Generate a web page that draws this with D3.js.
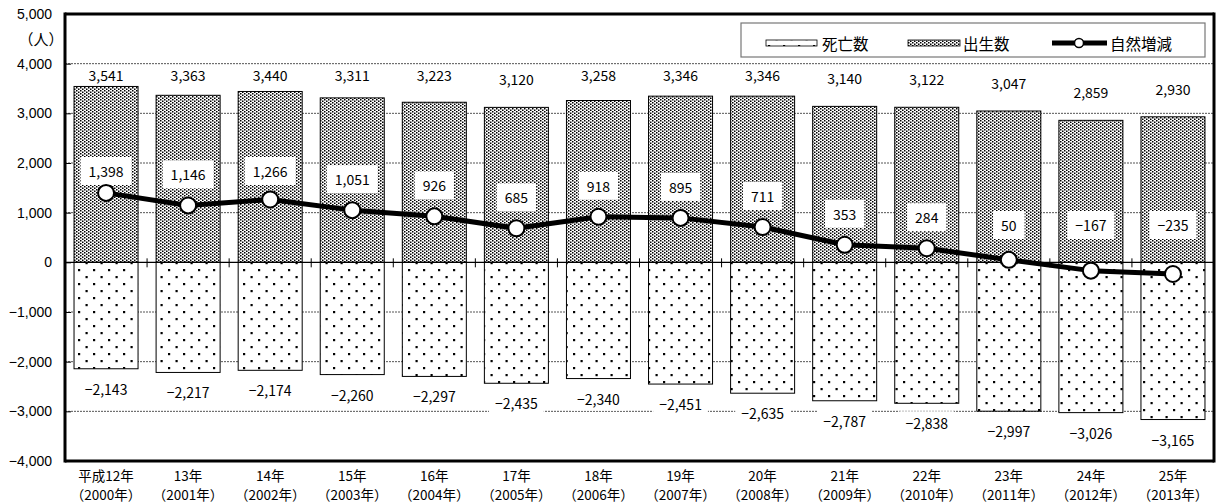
<!DOCTYPE html>
<html><head><meta charset="utf-8">
<script src="https://cdn.jsdelivr.net/npm/d3@7"></script>
<style>
html,body{margin:0;padding:0;background:#fff;}
svg{display:block;font-family:"Noto Sans CJK JP","Noto Sans",sans-serif;}
</style></head>
<body><svg id="c" width="1216" height="504"></svg>
<script>
const yearsJP = ["平成12年","13年","14年","15年","16年","17年","18年","19年","20年","21年","22年","23年","24年","25年"];
const yearsAD = ["（2000年）","（2001年）","（2002年）","（2003年）","（2004年）","（2005年）","（2006年）","（2007年）","（2008年）","（2009年）","（2010年）","（2011年）","（2012年）","（2013年）"];
const births = [3541,3363,3440,3311,3223,3120,3258,3346,3346,3140,3122,3047,2859,2930];
const deaths = [-2143,-2217,-2174,-2260,-2297,-2435,-2340,-2451,-2635,-2787,-2838,-2997,-3026,-3165];
const natural = [1398,1146,1266,1051,926,685,918,895,711,353,284,50,-167,-235];
const yTicks = [5000,4000,3000,2000,1000,0,-1000,-2000,-3000,-4000];
const legendLabels = ["死亡数","出生数","自然増減"];
const unitLabel = "（人）";

const svg = d3.select("#c");
const L = 65, R = 1214, T = 14, B = 461;
const x = d3.scaleBand().domain(yearsJP).range([L, R]).paddingInner(0.22).paddingOuter(0.11);
const y = d3.scaleLinear().domain([-4000, 5000]).range([B, T]);
const fmt = d3.format(",");

// patterns
const defs = svg.append("defs");
const pb = defs.append("pattern").attr("id","pBirth").attr("patternUnits","userSpaceOnUse").attr("width",4).attr("height",3);
pb.append("rect").attr("width",4).attr("height",3).attr("fill","#fff");
pb.append("rect").attr("x",0).attr("y",0).attr("width",1.5).attr("height",1.5).attr("fill","#000");
pb.append("rect").attr("x",2).attr("y",1.5).attr("width",1.5).attr("height",1.5).attr("fill","#000");
const pd = defs.append("pattern").attr("id","pDeath").attr("patternUnits","userSpaceOnUse").attr("width",15).attr("height",14);
pd.append("rect").attr("width",15).attr("height",14).attr("fill","#fff");
pd.append("rect").attr("x",3).attr("y",3).attr("width",2.2).attr("height",2.2).attr("fill","#000");
pd.append("rect").attr("x",10.5).attr("y",10).attr("width",2.2).attr("height",2.2).attr("fill","#000");

// gridlines
svg.append("g").selectAll("line").data(yTicks.filter(v => v !== 0 && v !== 5000 && v !== -4000)).join("line")
  .attr("x1", L).attr("x2", R).attr("y1", d => y(d)).attr("y2", d => y(d))
  .attr("stroke", "#555").attr("stroke-width", 1).attr("stroke-dasharray", "2,1");

// y axis labels
const yAxis = d3.axisLeft(y).tickValues(yTicks).tickFormat(fmt).tickSize(-6).tickPadding(13);
const ya = svg.append("g").attr("transform", `translate(${L},0)`).call(yAxis);
ya.select(".domain").remove();
ya.selectAll(".tick line").attr("stroke", "#000");
ya.selectAll("text").attr("font-size", 14).attr("fill", "#000").attr("font-family", "inherit");
svg.append("text").attr("x", 41).attr("y", 38).attr("text-anchor","middle").attr("dominant-baseline","central")
  .attr("font-size", 15).text(unitLabel);

// bars
svg.append("g").selectAll("rect").data(births).join("rect")
  .attr("x", (d,i) => x(yearsJP[i])).attr("width", x.bandwidth())
  .attr("y", d => y(d)).attr("height", d => y(0) - y(d))
  .attr("fill", "url(#pBirth)").attr("stroke", "#000").attr("stroke-width", 1);
svg.append("g").selectAll("rect").data(deaths).join("rect")
  .attr("x", (d,i) => x(yearsJP[i])).attr("width", x.bandwidth())
  .attr("y", y(0)).attr("height", d => y(d) - y(0))
  .attr("fill", "url(#pDeath)").attr("stroke", "#000").attr("stroke-width", 1);

// zero line and category ticks
svg.append("line").attr("x1", L).attr("x2", R).attr("y1", y(0)).attr("y2", y(0)).attr("stroke","#000").attr("stroke-width",1.2);
svg.append("g").selectAll("line").data(d3.range(1, yearsJP.length)).join("line")
  .attr("x1", i => L + i * x.step()).attr("x2", i => L + i * x.step())
  .attr("y1", y(0) - 4).attr("y2", y(0) + 5).attr("stroke","#000").attr("stroke-width",1);

// x labels
const cx = i => x(yearsJP[i]) + x.bandwidth() / 2;
const xl = svg.append("g");
xl.selectAll("text.l1").data(yearsJP).join("text").attr("class","l1")
  .attr("x", (d,i) => cx(i)).attr("y", 474.5).attr("text-anchor","middle").attr("dominant-baseline","central")
  .attr("font-size", 13.5).text(d => d);
xl.selectAll("text.l2").data(yearsAD).join("text").attr("class","l2")
  .attr("x", (d,i) => cx(i)).attr("y", 494.3).attr("text-anchor","middle").attr("dominant-baseline","central")
  .attr("font-size", 13.5).text(d => d);

// label helper with white box
function boxLabel(g, xx, yy, txt, padX, h) {
  const t = g.append("text").attr("x", xx).attr("y", yy).attr("text-anchor","middle")
    .attr("dominant-baseline","central").attr("font-size", 14).text(txt);
  const w = t.node().getComputedTextLength();
  g.insert("rect", "text").attr("x", xx - w/2 - padX).attr("y", yy - h/2).attr("width", w + 2*padX).attr("height", h).attr("fill", "#fff");
}

// births labels
const bl = svg.append("g");
births.forEach((v,i) => {
  const g = bl.append("g");
  boxLabel(g, cx(i), Math.max(75, y(v) - 28), fmt(v), 3, 18);
});
// deaths labels
const dl = svg.append("g");
deaths.forEach((v,i) => {
  const g = dl.append("g");
  boxLabel(g, cx(i), y(v) + 20, fmt(v), 6, 24);
});

// natural line
const line = d3.line().x((d,i) => cx(i)).y(d => y(d));
svg.append("path").datum(natural).attr("d", line).attr("fill","none").attr("stroke","#000")
  .attr("stroke-width", 5).attr("stroke-linejoin","round");
// natural labels
const nl = svg.append("g");
natural.forEach((v,i) => {
  const g = nl.append("g");
  boxLabel(g, cx(i), Math.min(225, Math.max(171, y(v) - 31)), fmt(v), 8, 28);
});
svg.append("g").selectAll("circle").data(natural).join("circle")
  .attr("cx", (d,i) => cx(i)).attr("cy", d => y(d)).attr("r", 8)
  .attr("fill","#fff").attr("stroke","#000").attr("stroke-width",2);

// frame
svg.append("line").attr("x1", L).attr("x2", R).attr("y1", T).attr("y2", T).attr("stroke","#000").attr("stroke-width",3);
svg.append("line").attr("x1", L).attr("x2", R).attr("y1", B).attr("y2", B).attr("stroke","#000").attr("stroke-width",3);
svg.append("line").attr("x1", L).attr("x2", L).attr("y1", T-1.5).attr("y2", B+1.5).attr("stroke","#000").attr("stroke-width",3);
svg.append("line").attr("x1", R).attr("x2", R).attr("y1", T-1.5).attr("y2", B+1.5).attr("stroke","#000").attr("stroke-width",3);

// legend
const lg = svg.append("g");
lg.append("rect").attr("x", 741).attr("y", 23).attr("width", 464).attr("height", 34)
  .attr("fill","#fff").attr("stroke","#777").attr("stroke-width",1.2);
lg.append("rect").attr("x", 766).attr("y", 40).attr("width", 51).attr("height", 6).attr("fill","url(#pDeath)").attr("stroke","#000").attr("stroke-width",0.8);
lg.append("rect").attr("x", 908).attr("y", 40).attr("width", 52).attr("height", 6).attr("fill","url(#pBirth)").attr("stroke","#000").attr("stroke-width",0.8);
lg.append("line").attr("x1", 1052).attr("x2", 1107).attr("y1", 43).attr("y2", 43).attr("stroke","#000").attr("stroke-width",5);
lg.append("circle").attr("cx", 1079).attr("cy", 43).attr("r", 4.5).attr("fill","#fff").attr("stroke","#000").attr("stroke-width",1.5);
[[822,0],[963,1],[1110,2]].forEach(([lx,k]) => {
  lg.append("text").attr("x", lx).attr("y", 43).attr("dominant-baseline","central").attr("font-size",15.5).text(legendLabels[k]);
});
</script></body></html>
